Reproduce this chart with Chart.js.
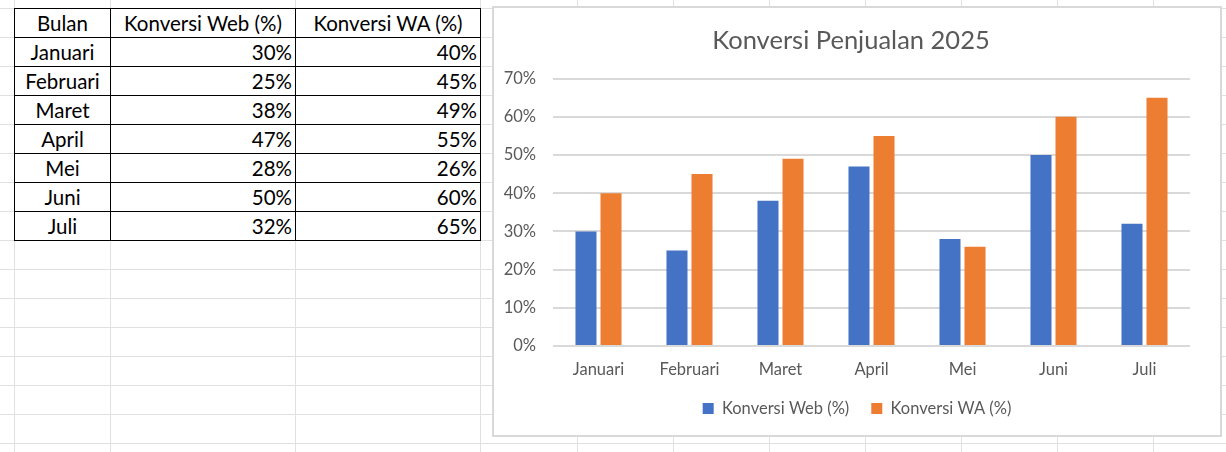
<!DOCTYPE html>
<html>
<head>
<meta charset="utf-8">
<script src="https://cdn.jsdelivr.net/npm/chart.js@4/dist/chart.umd.min.js"></script>
<style>
  body { margin: 0; width: 1226px; height: 452px; overflow: hidden; background: #fff; position: relative; font-family: Lato, sans-serif; }
  .gv { position: absolute; top: 0; height: 452px; width: 1px; background: #e0e0e0; }
  .gh { position: absolute; left: 0; width: 1226px; height: 1px; background: #e0e0e0; }
  #tabel { position: absolute; left: 14px; top: 8px; border-collapse: collapse; table-layout: fixed; background: #fff; font-size: 20.5px; color: #000; }
  #tabel td { border: 1px solid #000; height: 28px; padding: 0 3px; white-space: nowrap; line-height: 28px; overflow: hidden; }
  #tabel td.c { text-align: center; }
  #tabel td.r { text-align: right; }
  #kotak { position: absolute; left: 492px; top: 6px; width: 726px; height: 427px; border: 2px solid #d9d9d9; background: #fff; }
  #kotak canvas { display: block; }
</style>
</head>
<body>
<div id="grid"></div>
<table id="tabel">
  <colgroup><col style="width:96px"><col style="width:185px"><col style="width:185px"></colgroup>
  <tbody id="isiTabel"></tbody>
</table>
<div id="kotak"><canvas id="grafik" width="726" height="427"></canvas></div>

<script>
const bulan = ['Januari', 'Februari', 'Maret', 'April', 'Mei', 'Juni', 'Juli'];
const konversiWeb = [30, 25, 38, 47, 28, 50, 32];
const konversiWA = [40, 45, 49, 55, 26, 60, 65];
const judulKolom = ['Bulan', 'Konversi Web (%)', 'Konversi WA (%)'];
const judulGrafik = 'Konversi Penjualan 2025';

// garis kisi lembar kerja
const kolomX = [14, 110, 295, 480, 577, 673, 769, 865, 961, 1057, 1153];
const grid = document.getElementById('grid');
kolomX.forEach(x => {
  const d = document.createElement('div');
  d.className = 'gv';
  d.style.left = x + 'px';
  grid.appendChild(d);
});
for (let y = 8; y < 452; y += 29) {
  const d = document.createElement('div');
  d.className = 'gh';
  d.style.top = y + 'px';
  grid.appendChild(d);
}

// tabel data
const isi = document.getElementById('isiTabel');
let html = '<tr>' + judulKolom.map(t => `<td class="c">${t}</td>`).join('') + '</tr>';
bulan.forEach((b, i) => {
  html += `<tr><td class="c">${b}</td><td class="r">${konversiWeb[i]}%</td><td class="r">${konversiWA[i]}%</td></tr>`;
});
isi.innerHTML = html;

const abu = '#595959';
const garis = '#d9d9d9';
const hurufKecil = { family: 'Lato', size: 16.5 };

// judul & legenda di Excel berada di tengah kotak, bukan di tengah area plot
const geserTengah = {
  id: 'geserTengah',
  afterLayout(chart) {
    chart.titleBlock.left += 18;
    chart.legend.left += 30;
  }
};

new Chart(document.getElementById('grafik').getContext('2d'), {
  type: 'bar',
  data: {
    labels: bulan,
    datasets: [
      { label: judulKolom[1], data: konversiWeb, backgroundColor: '#4472C4', borderWidth: 0, categoryPercentage: 0.55, barPercentage: 0.84 },
      { label: judulKolom[2], data: konversiWA, backgroundColor: '#ED7D31', borderWidth: 0, categoryPercentage: 0.55, barPercentage: 0.84 }
    ]
  },
  plugins: [geserTengah],
  options: {
    responsive: false,
    animation: false,
    devicePixelRatio: 1,
    layout: { padding: { left: 0, right: 30, top: 0, bottom: 8.25 } },
    plugins: {
      title: {
        display: true,
        text: judulGrafik,
        color: abu,
        font: { family: 'Lato', size: 25.5, weight: 'normal' },
        padding: { top: 17, bottom: 23 }
      },
      legend: {
        position: 'bottom',
        labels: {
          color: abu,
          font: hurufKecil,
          boxWidth: 11,
          boxHeight: 11,
          padding: 22
        }
      },
      tooltip: { enabled: false }
    },
    scales: {
      x: {
        grid: { display: false, drawTicks: false },
        border: { display: false },
        ticks: { color: abu, font: hurufKecil, padding: 14 },
        afterFit: s => { s.height = 32.25; }
      },
      y: {
        min: 0,
        max: 70,
        grid: { color: garis, lineWidth: 2, drawTicks: false },
        border: { display: false },
        ticks: {
          stepSize: 10,
          color: abu,
          font: hurufKecil,
          padding: 17,
          callback: v => v + '%'
        },
        afterFit: s => { s.width = 59; }
      }
    }
  }
});
</script>
</body>
</html>
